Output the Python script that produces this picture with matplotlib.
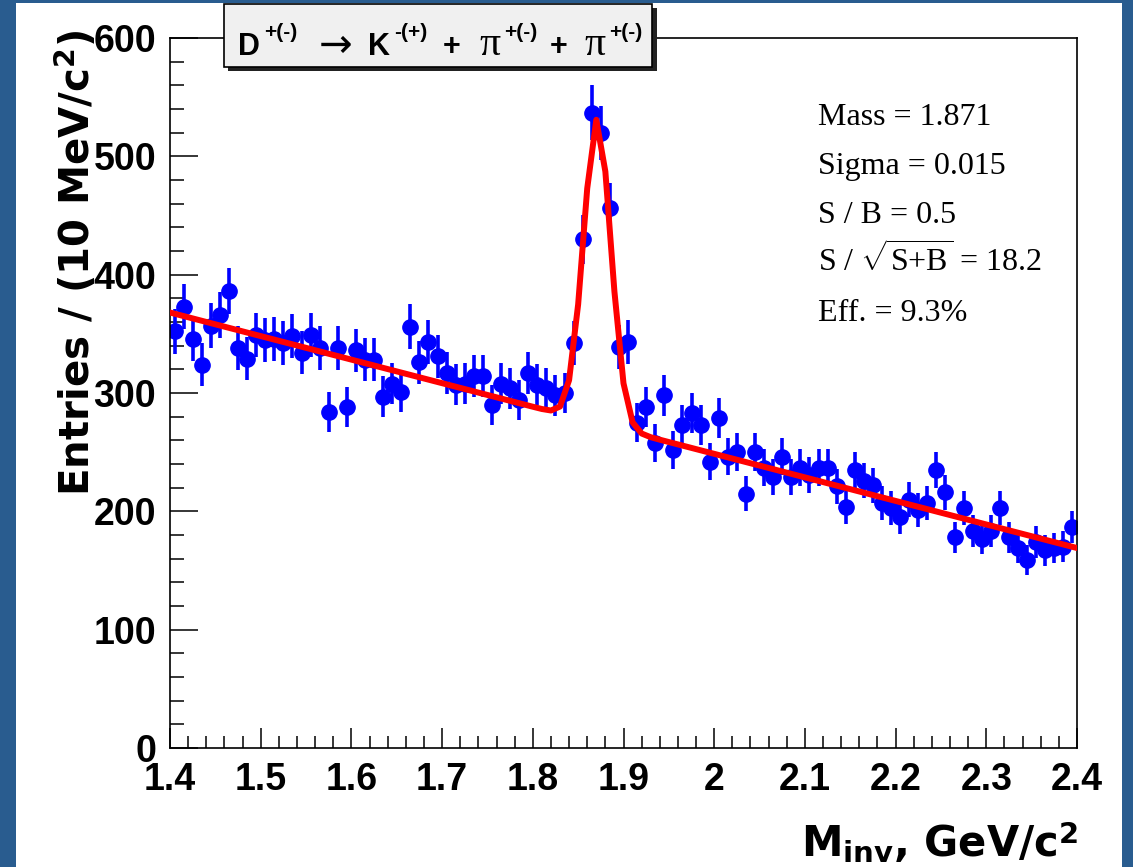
import numpy as np
import matplotlib
matplotlib.use("Agg")
import matplotlib.pyplot as plt
from matplotlib.patches import Rectangle
from matplotlib.ticker import MultipleLocator, FuncFormatter

#------------------------------------------------------------------------------#
# Histogram : invariant mass of K pi pi, 10 MeV bins from 1.4 to 2.4 GeV/c^2
#------------------------------------------------------------------------------#

mass_lo = 1.4
mass_hi = 2.4
n_bins = 100

entries = [352, 373, 346, 324, 357, 366, 386, 338, 329, 349,
           345, 346, 342, 348, 334, 349, 338, 284, 338, 288,
           336, 328, 328, 297, 308, 301, 356, 326, 343, 331,
           317, 307, 308, 314, 314, 290, 308, 304, 294, 317,
           307, 304, 298, 300, 342, 430, 537, 520, 456, 339,
           343, 275, 288, 258, 298, 252, 273, 283, 273, 242,
           279, 246, 250, 215, 250, 237, 229, 246, 229, 237,
           231, 237, 237, 221, 204, 235, 226, 222, 207, 203,
           195, 210, 201, 207, 235, 216, 178, 203, 183, 177,
           183, 203, 178, 169, 159, 174, 167, 169, 170, 187]

# fit result : gaussian peak on a linear background
fit_mass = 1.871
fit_sigma = 0.015
fit_amp = 257.0
bg_p0 = 368.0
bg_p1 = -199.0
fit_npx = 100

# title pieces : (text, style)
title_parts = [('D', 'base'), ('+(-)', 'sup'), ('\u2192', 'arrow'),
               ('K', 'base'), ('-(+)', 'sup'), ('+', 'base'),
               ('\u03c0', 'pi'), ('+(-)', 'sup'), ('+', 'base'),
               ('\u03c0', 'pi'), ('+(-)', 'sup')]
title_xpix = [238, 264, 319, 368, 394, 443, 479, 504, 550, 584, 609]

stat_lines = ['Mass = 1.871',
              'Sigma = 0.015',
              'S / B = 0.5',
              r'S / $\sqrt{\mathrm{S{+}B}}$ = 18.2',
              'Eff. = 9.3%']

#------------------------------------------------------------------------------#

plt.rcParams['font.family'] = ['Liberation Sans', 'DejaVu Sans']
plt.rcParams['font.weight'] = 'bold'
plt.rcParams['mathtext.fontset'] = 'custom'
plt.rcParams['mathtext.rm'] = 'Liberation Serif:normal'
plt.rcParams['mathtext.it'] = 'Liberation Serif:italic:normal'
plt.rcParams['mathtext.bf'] = 'DejaVu Sans:bold'

W, H = 1133.0, 867.0
fig = plt.figure(figsize=(W / 100, H / 100), dpi=100)
fig.patch.set_facecolor('#295c8f')
fig.add_artist(Rectangle((16 / W, 0), (1122 - 16) / W, (867 - 3) / H,
                         transform=fig.transFigure, facecolor='white',
                         edgecolor='none', zorder=-10))

ax = fig.add_axes([170 / W, (H - 748) / H, 907 / W, 710 / H])
ax.set_facecolor('white')

edges = np.linspace(mass_lo, mass_hi, n_bins + 1)
centres = 0.5 * (edges[1:] + edges[:-1])
counts = np.array(entries, dtype=float)

ax.errorbar(centres, counts, yerr=np.sqrt(counts), xerr=0.5 * (edges[1] - edges[0]),
            fmt='o', color='#0000ff', ms=11, elinewidth=2.6, capsize=0, zorder=2)

xf = np.linspace(mass_lo, mass_hi, fit_npx + 1)
yf = bg_p0 + bg_p1 * (xf - mass_lo) + fit_amp * np.exp(-0.5 * ((xf - fit_mass) / fit_sigma) ** 2)
ax.plot(xf, yf, color='#ff0000', lw=4.3, zorder=3)

ax.set_xlim(mass_lo, mass_hi)
ax.set_ylim(0, 600)

ax.xaxis.set_major_locator(MultipleLocator(0.1))
ax.xaxis.set_minor_locator(MultipleLocator(0.02))
ax.yaxis.set_major_locator(MultipleLocator(100))
ax.yaxis.set_minor_locator(MultipleLocator(20))
ax.xaxis.set_major_formatter(FuncFormatter(lambda v, p: '%g' % round(v, 2)))
ax.yaxis.set_major_formatter(FuncFormatter(lambda v, p: '%d' % v))

ax.tick_params(axis='both', which='both', direction='in', top=False, right=False,
               width=1.1, color='black', labelsize=27, pad=10)
ax.tick_params(axis='x', which='major', length=14.5)
ax.tick_params(axis='x', which='minor', length=8.5)
ax.tick_params(axis='y', which='major', length=20)
ax.tick_params(axis='y', which='minor', length=10)

for sp in ax.spines.values():
    sp.set_linewidth(1.2)
    sp.set_color('black')

# axis titles, ROOT style (wide bold sans)
fig.text(76 / W, 1 - 30 / H, r'Entries / (10 MeV/c$^{\mathbf{2}}$)', rotation=90,
         ha='center', va='top', fontsize=29, fontweight='bold', family='DejaVu Sans')
fig.text(1078 / W, 1 - 857 / H, r'M$_{\mathbf{inv}}$, GeV/c$^{\mathbf{2}}$',
         ha='right', va='baseline', fontsize=30, fontweight='bold', family='DejaVu Sans')

# title pave with shadow
fig.add_artist(Rectangle((228 / W, 1 - 71 / H), 429 / W, 63 / H, transform=fig.transFigure,
                         facecolor='#222222', edgecolor='none', zorder=5))
fig.add_artist(Rectangle((224 / W, 1 - 67 / H), 428 / W, 63 / H, transform=fig.transFigure,
                         facecolor='#f0f0f0', edgecolor='black', lw=1.2, zorder=6))

title_style = {'base': dict(fontsize=22, family='Liberation Sans', fontweight='bold', ybase=55),
               'sup': dict(fontsize=15, family='Liberation Sans', fontweight='bold', ybase=38),
               'arrow': dict(fontsize=29, family='DejaVu Sans', fontweight='normal', ybase=57),
               'pi': dict(fontsize=30, family='Liberation Serif', fontweight='normal', ybase=55)}
for (txt, kind), xp in zip(title_parts, title_xpix):
    st = title_style[kind]
    fig.text(xp / W, 1 - st['ybase'] / H, txt, fontsize=st['fontsize'], family=st['family'],
             fontweight=st['fontweight'], ha='left', va='baseline', zorder=7)

# fit statistics
for k, line in enumerate(stat_lines):
    fig.text(818 / W, 1 - (125 + 49 * k) / H, line, fontsize=23, family='Liberation Serif',
             fontweight='normal', ha='left', va='baseline')

plt.savefig("out.png", dpi=100)
plt.close()
